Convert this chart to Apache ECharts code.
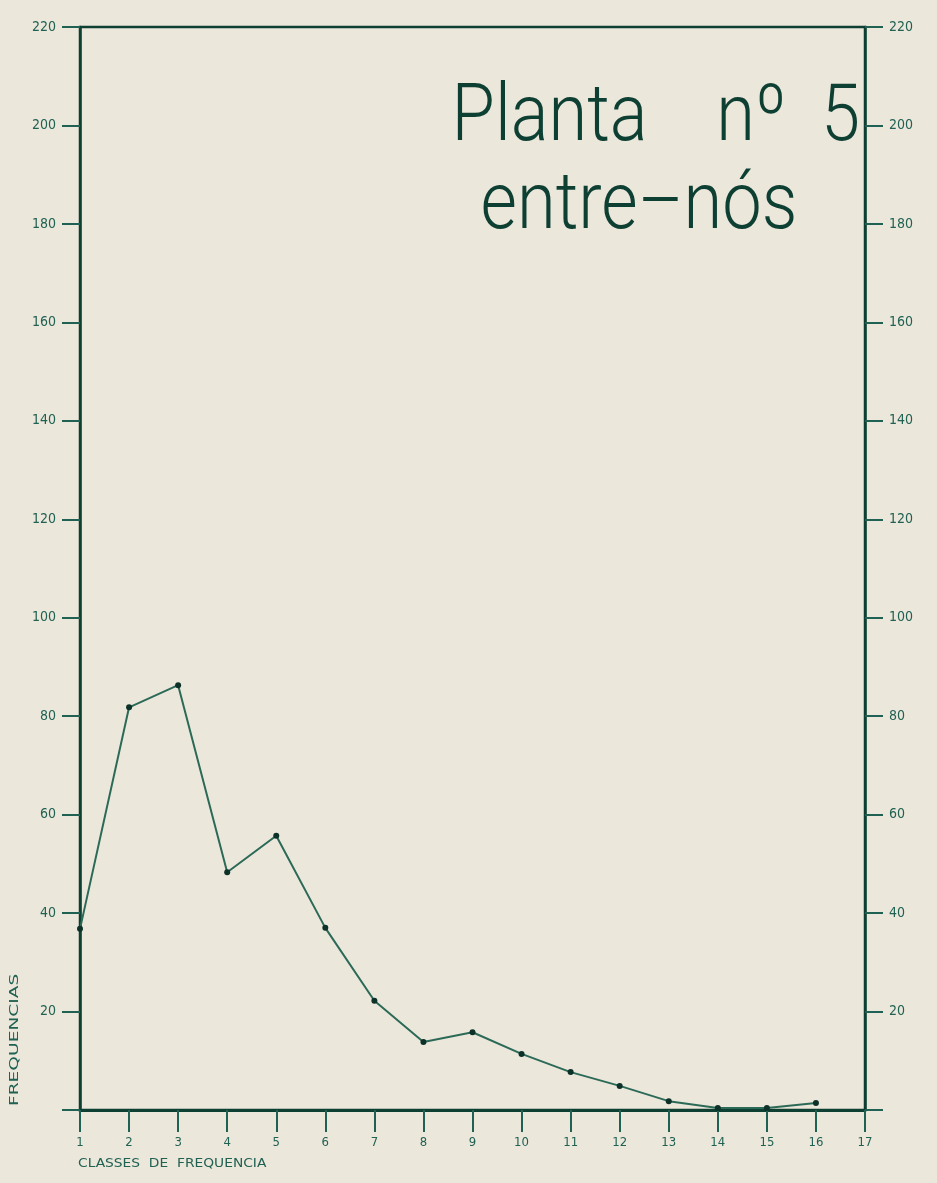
<!DOCTYPE html>
<html>
<head>
<meta charset="utf-8">
<script src="https://cdn.jsdelivr.net/npm/echarts@6/dist/echarts.min.js"></script>
<style>
html,body{margin:0;padding:0;background:#ece7db;}
#c{width:937px;height:1183px;}
</style>
</head>
<body>
<div id="c"></div>
<script>
const classes = [1,2,3,4,5,6,7,8,9,10,11,12,13,14,15,16];
const frequencias = [36.8,81.8,86.3,48.3,55.7,37.0,22.2,13.8,15.8,11.4,7.7,4.9,1.8,0.4,0.4,1.4];
const xTicks = ['1','2','3','4','5','6','7','8','9','10','11','12','13','14','15','16','17'];
const yTickLabels = ['','20','40','60','80','100','120','140','160','180','200','220'];
const titleLines = ['Planta    nº  5', 'entre–nós'];
const xName = 'CLASSES  DE  FREQUENCIA';
const yName = 'FREQUENCIAS';

const ink = '#0e3f33';
const txt = '#1f6152';
const chart = echarts.init(document.getElementById('c'));
const yAxisBase = (pos) => ({
  type: 'value', position: pos, min: 0, max: 220, interval: 20,
  axisLine: {show: true, lineStyle: {color: ink, width: 2.5}},
  axisTick: {show: true, inside: false, length: 18, lineStyle: {color: txt, width: 2}},
  axisLabel: {margin: 24, color: txt, fontSize: 14, fontFamily: 'DejaVu Sans Condensed, DejaVu Sans',
    formatter: v => yTickLabels[Math.round(v/20)]},
  splitLine: {show: false}
});
const titleFont = {fill: ink, fontSize: 80, fontWeight: 300, fontFamily: 'Roboto, sans-serif'};
chart.setOption({
  backgroundColor: '#ece7db',
  animation: false,
  grid: {left: 80, right: 72, top: 27, bottom: 73, show: true, borderColor: ink, borderWidth: 2.5, backgroundColor: 'transparent'},
  xAxis: {
    type: 'value', min: 1, max: 17, interval: 1,
    axisLine: {show: true, lineStyle: {color: ink, width: 3}},
    axisTick: {show: true, length: 22, lineStyle: {color: txt, width: 2}},
    axisLabel: {margin: 26, color: txt, fontSize: 13, fontFamily: 'DejaVu Sans Condensed, DejaVu Sans',
      formatter: v => xTicks[Math.round(v) - 1]},
    splitLine: {show: false}
  },
  yAxis: [yAxisBase('left'), yAxisBase('right')],
  series: [{
    type: 'line',
    data: classes.map((c, i) => [c, frequencias[i]]),
    lineStyle: {color: '#2c6a58', width: 2},
    itemStyle: {color: '#0c3128'},
    symbol: 'circle', symbolSize: 6,
    showSymbol: true
  }],
  graphic: [
    {type: 'text', x: 860, y: 80, scaleX: 0.88, style: Object.assign({text: titleLines[0], align: 'right', verticalAlign: 'top'}, titleFont)},
    {type: 'text', x: 639, y: 168, scaleX: 0.88, style: Object.assign({text: titleLines[1], align: 'center', verticalAlign: 'top'}, titleFont)},
    {type: 'text', x: 78, y: 1158, scaleX: 1.15, style: {text: xName, fill: txt, fontSize: 12,
      fontFamily: 'DejaVu Sans, sans-serif', align: 'left', verticalAlign: 'top'}},
    {type: 'text', x: 9, y: 1106, rotation: Math.PI/2, scaleX: 1.55, style: {text: yName, fill: txt, fontSize: 12,
      fontFamily: 'DejaVu Sans, sans-serif', align: 'left', verticalAlign: 'top'}}
  ]
});
</script>
</body>
</html>
